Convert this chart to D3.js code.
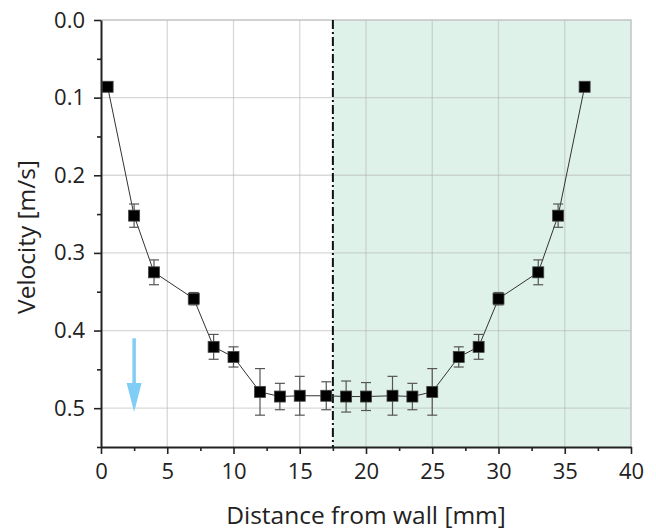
<!DOCTYPE html>
<html><head><meta charset="utf-8">
<script src="https://cdn.jsdelivr.net/npm/d3@7"></script>
<style>body{margin:0;background:#fff}svg{display:block;font-family:"Open Sans",sans-serif}</style>
</head><body>
<svg id="c" width="656" height="530"></svg>
<script>
const distance = [0.5, 2.5, 4, 7, 8.5, 10, 12, 13.5, 15, 17, 18.5, 20, 22, 23.5, 25, 27, 28.5, 30, 33, 34.5, 36.5];
const velocity = [0.086, 0.252, 0.325, 0.359, 0.421, 0.434, 0.479, 0.485, 0.484, 0.484, 0.485, 0.485, 0.484, 0.485, 0.479, 0.434, 0.421, 0.359, 0.325, 0.252, 0.086];
const velErr = [0.005, 0.015, 0.016, 0.008, 0.016, 0.013, 0.030, 0.017, 0.025, 0.018, 0.020, 0.018, 0.025, 0.017, 0.030, 0.013, 0.016, 0.008, 0.016, 0.015, 0.005];
const xTicks = [0, 5, 10, 15, 20, 25, 30, 35, 40];
const yTicks = [0.0, 0.1, 0.2, 0.3, 0.4, 0.5];
const midline = 17.5;
const arrowX = 2.5, arrowFrom = 0.41, arrowTo = 0.505;

const svg = d3.select("#c");
const L = 101, R = 631, T = 20, B = 447;
const x = d3.scaleLinear().domain([0, 40]).range([L, R]);
const y = d3.scaleLinear().domain([0, 0.55]).range([T, B]);

svg.append("rect").attr("x", x(midline)).attr("y", T).attr("width", x(40) - x(midline)).attr("height", B - T).attr("fill", "#dff2ea");

const g = svg.append("g");
xTicks.slice(1, -1).forEach(t => g.append("line").attr("x1", x(t)).attr("x2", x(t)).attr("y1", T).attr("y2", B).attr("stroke", "#b4b4b4").attr("stroke-opacity", 0.5).attr("stroke-width", 1.3));
yTicks.slice(1).forEach(t => g.append("line").attr("x1", L).attr("x2", R).attr("y1", y(t)).attr("y2", y(t)).attr("stroke", "#b4b4b4").attr("stroke-opacity", 0.5).attr("stroke-width", 1.3));
svg.append("path").attr("d", `M${L},${T}H${R}V${B}`).attr("fill", "none").attr("stroke", "#c4c4c4").attr("stroke-width", 1.5);

svg.append("line").attr("x1", x(midline)).attr("x2", x(midline)).attr("y1", T).attr("y2", B).attr("stroke", "#111").attr("stroke-width", 2).attr("stroke-dasharray", "9,3,2,3");

const xAxis = d3.axisBottom(x).tickValues(xTicks).tickSize(7).tickPadding(9).tickFormat(d3.format("d"));
const xMinor = d3.axisBottom(x).tickValues(d3.range(2.5, 40, 5)).tickSize(4).tickFormat("");
const yAxis = d3.axisLeft(y).tickValues(yTicks).tickSize(7).tickPadding(9).tickFormat(d3.format(".1f"));
const yMinor = d3.axisLeft(y).tickValues([0.05, 0.15, 0.25, 0.35, 0.45, 0.55]).tickSize(4).tickFormat("");
function styleAxis(sel) {
  sel.select(".domain").attr("stroke", "#222").attr("stroke-width", 2);
  sel.selectAll(".tick line").attr("stroke", "#222").attr("stroke-width", 1.6);
  sel.selectAll("text").attr("fill", "#222").attr("font-size", 22).attr("font-family", "'Open Sans', sans-serif");
}
svg.append("g").attr("transform", `translate(0,${B})`).call(xMinor).call(styleAxis).select(".domain").remove();
svg.append("g").attr("transform", `translate(${L},0)`).call(yMinor).call(styleAxis).select(".domain").remove();
svg.append("g").attr("transform", `translate(0,${B})`).call(xAxis.tickSizeOuter(0)).call(styleAxis);
svg.append("g").attr("transform", `translate(${L},0)`).call(yAxis.tickSizeOuter(0)).call(styleAxis);

svg.append("text").attr("x", 366).attr("y", 524).attr("text-anchor", "middle").attr("font-size", 24.5).attr("fill", "#222").text("Distance from wall [mm]");
svg.append("text").attr("transform", `translate(35,237) rotate(-90)`).attr("text-anchor", "middle").attr("font-size", 24.5).attr("fill", "#222").text("Velocity [m/s]");

const ax = x(arrowX);
svg.append("line").attr("x1", ax).attr("x2", ax).attr("y1", y(arrowFrom)).attr("y2", y(arrowTo) - 26).attr("stroke", "#80cdf5").attr("stroke-width", 3.5);
svg.append("path").attr("d", `M${ax - 7.5},${y(arrowTo) - 29}L${ax + 7.5},${y(arrowTo) - 29}L${ax},${y(arrowTo)}Z`).attr("fill", "#80cdf5");

const data = distance.map((d, i) => ({x: d, y: velocity[i], e: velErr[i]}));
svg.append("path").datum(data).attr("d", d3.line().x(d => x(d.x)).y(d => y(d.y))).attr("fill", "none").attr("stroke", "#333").attr("stroke-width", 1);

const eb = svg.append("g").attr("stroke", "#555").attr("stroke-width", 1.2);
data.forEach(d => {
  eb.append("line").attr("x1", x(d.x)).attr("x2", x(d.x)).attr("y1", y(d.y - d.e)).attr("y2", y(d.y + d.e));
  [d.y - d.e, d.y + d.e].forEach(v => eb.append("line").attr("x1", x(d.x) - 5).attr("x2", x(d.x) + 5).attr("y1", y(v)).attr("y2", y(v)));
});

svg.append("g").selectAll("rect").data(data).join("rect")
  .attr("x", d => x(d.x) - 5.5).attr("y", d => y(d.y) - 5.5).attr("width", 11).attr("height", 11)
  .attr("fill", "#000").attr("stroke", "#444").attr("stroke-width", 0.8);
</script>
</body></html>
